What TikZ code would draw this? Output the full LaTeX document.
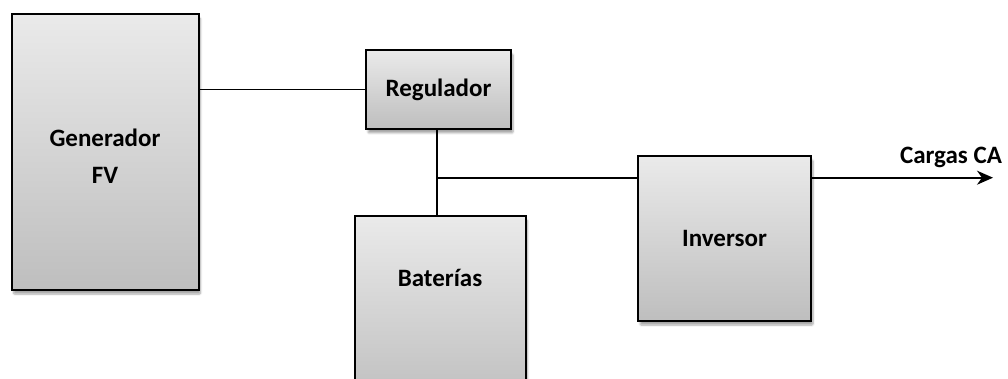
\documentclass[tikz,border=0pt]{standalone}
\usepackage{fontspec}
\setmainfont{Carlito}
\usetikzlibrary{arrows.meta,shadows.blur}
\tikzset{
  blockbox/.style={draw=black, line width=2pt, top color=boxtop, bottom color=boxbot,
    blur shadow={shadow xshift=2pt, shadow yshift=-4pt, shadow blur steps=6, shadow blur extra rounding=1pt, shadow opacity=35},
    inner sep=0pt, font=\fontsize{25}{30}\selectfont\bfseries, align=center},
  wire/.style={line width=1.7pt},
  lbl/.style={font=\fontsize{25}{30}\selectfont\bfseries, inner sep=0pt}
}
\definecolor{boxtop}{HTML}{EAEAEA}
\definecolor{boxbot}{HTML}{BEBEBE}
\begin{document}
\begin{tikzpicture}[x=1pt,y=-1pt]
\useasboundingbox (0,0) rectangle (1008,379);
\clip (0,0) rectangle (1008,379);
\node[blockbox, minimum width=187pt, minimum height=276pt] (gen) at (105,152) {};
\node[lbl, anchor=base] (gentxt1) at (105,146.7) {Generador};
\node[lbl, anchor=base] (gentxt2) at (105,184) {FV};
\node[blockbox, minimum width=145pt, minimum height=79pt] (reg) at (438.5,89.5) {Regulador};
\node[blockbox, minimum width=171pt, minimum height=190pt] (bat) at (440,311) {};
\node[lbl] (battxt) at (440,278) {Baterías};
\node[blockbox, minimum width=173pt, minimum height=165pt] (inv) at (724.5,238.5) {Inversor};
\coordinate (junc) at (436.7,177.7);
\coordinate (out) at (993,177.7);
\node[lbl, anchor=base] (cargas) at (951,164) {Cargas CA};
\draw[wire] (gen.east |- reg.west) -- (reg.west);
\draw[wire] (reg.south -| junc) -- (bat.north -| junc);
\draw[wire] (junc) -- (inv.west |- junc);
\draw[wire, -{Stealth[length=16pt,width=14pt,inset=5pt]}] (inv.east |- out) -- (out);
\end{tikzpicture}
\end{document}
